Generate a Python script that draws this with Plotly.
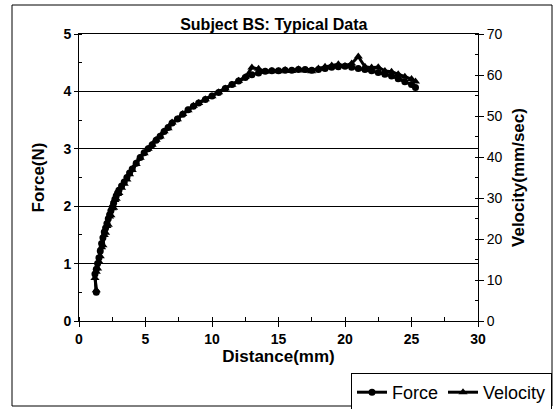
import plotly.graph_objects as go

distance = [1.3, 1.2, 1.3, 1.4, 1.5, 1.6, 1.7, 1.8, 1.9, 2.0, 2.1, 2.2, 2.3, 2.4, 2.5, 2.6, 2.7, 2.8, 2.9, 3.0,
            3.2, 3.4, 3.6, 3.8, 4.0, 4.3, 4.6, 4.9, 5.2, 5.5, 5.8, 6.1, 6.4, 6.7, 7.0, 7.4, 7.8, 8.2, 8.6, 9.0,
            9.5, 10.0, 10.5, 11.0, 11.5, 12.0, 12.5, 13.0, 13.5, 14.0, 14.5, 15.0, 15.5, 16.0, 16.5, 17.0, 17.5,
            18.0, 18.5, 19.0, 19.5, 20.0, 20.5, 21.0, 21.5, 22.0, 22.5, 23.0, 23.5, 24.0, 24.5, 25.0, 25.3]

force = [0.50, 0.82, 0.90, 1.00, 1.10, 1.22, 1.35, 1.45, 1.55, 1.62, 1.70, 1.78, 1.85, 1.92, 1.98, 2.05, 2.12,
         2.18, 2.23, 2.28, 2.35, 2.42, 2.50, 2.58, 2.65, 2.75, 2.85, 2.93, 3.00, 3.07, 3.15, 3.22, 3.30, 3.37,
         3.45, 3.52, 3.60, 3.68, 3.74, 3.80, 3.86, 3.92, 3.98, 4.05, 4.12, 4.18, 4.24, 4.29, 4.32, 4.35, 4.36,
         4.36, 4.37, 4.37, 4.38, 4.38, 4.37, 4.38, 4.40, 4.42, 4.43, 4.44, 4.42, 4.40, 4.38, 4.36, 4.33, 4.30,
         4.27, 4.22, 4.17, 4.12, 4.07]

velocity = [7.5, 10.5, 12.0, 12.8, 14.5, 15.8, 18.0, 18.5, 21.0, 21.5, 23.2, 23.5, 25.5, 25.8, 27.5, 27.6, 29.5,
            29.8, 31.0, 31.2, 32.5, 33.5, 34.5, 35.8, 36.8, 38.3, 39.8, 40.9, 42.0, 43.0, 44.2, 45.0, 46.3, 47.0,
            48.4, 49.2, 50.5, 51.4, 52.5, 53.2, 54.1, 54.8, 55.8, 56.7, 57.6, 58.6, 59.5, 61.8, 61.5, 60.8, 61.0,
            60.9, 61.2, 61.0, 61.4, 61.1, 60.9, 61.6, 62.0, 62.3, 62.6, 62.2, 62.8, 64.5, 62.0, 61.8, 61.9, 61.0,
            60.8, 60.2, 59.6, 59.0, 58.4]

title_text = "Subject BS: Typical Data"
x_title = "Distance(mm)"
y_title = "Force(N)"
y2_title = "Velocity(mm/sec)"

FONT = "Liberation Sans, Arial, sans-serif"
W, H = 555, 409
L, R, T, B = 79, 478, 34, 321

fig = go.Figure()
fig.add_trace(go.Scatter(
    x=distance, y=force, name="Force", mode="lines+markers",
    line=dict(color="black", width=3),
    marker=dict(symbol="circle", size=7, color="black"),
))
fig.add_trace(go.Scatter(
    x=distance, y=velocity, name="Velocity", mode="lines+markers", yaxis="y2",
    line=dict(color="black", width=3),
    marker=dict(symbol="triangle-up", size=8, color="black"),
))

fig.update_layout(
    width=W, height=H,
    margin=dict(l=L, r=W - R, t=T, b=H - B, autoexpand=False),
    paper_bgcolor="white", plot_bgcolor="white",
    font=dict(family=FONT, color="black", size=13),
    title=dict(text="<b>" + title_text + "</b>", x=271 / W, xref="paper", xanchor="center",
               y=1 - 24 / H, yref="container", yanchor="middle",
               font=dict(size=16, family=FONT, color="black")),
    xaxis=dict(
        range=[0, 30], dtick=5, tick0=0, automargin=False,
        showline=True, linecolor="black", linewidth=1, mirror=True,
        showgrid=False, zeroline=False,
        ticks="outside", ticklen=5, tickcolor="black",
        minor=dict(dtick=2.5, ticks="inside", ticklen=4, tickcolor="black"),
        tickfont=dict(size=14, family=FONT, weight="bold"),
        title=dict(text="<b>" + x_title + "</b>", font=dict(size=17, family=FONT), standoff=4),
    ),
    yaxis=dict(
        range=[0, 5], dtick=1, tick0=0, automargin=False,
        showline=True, linecolor="black", linewidth=1, mirror=True,
        showgrid=True, gridcolor="black", gridwidth=1, zeroline=False,
        ticks="outside", ticklen=4, tickcolor="black",
        minor=dict(dtick=0.5, ticks="inside", ticklen=3, tickcolor="black"),
        tickfont=dict(size=14, family=FONT, weight="bold"),
        title=dict(text="<b>" + y_title + "</b>", font=dict(size=17, family=FONT), standoff=14),
    ),
    yaxis2=dict(
        range=[0, 70], dtick=10, tick0=0, overlaying="y", side="right", automargin=False,
        showline=True, linecolor="black", linewidth=1,
        showgrid=False, zeroline=False,
        ticks="outside", ticklen=5, tickcolor="black",
        minor=dict(dtick=5, ticks="inside", ticklen=3, tickcolor="black"),
        tickfont=dict(size=14, family=FONT),
        title=dict(text="<b>" + y2_title + "</b>", font=dict(size=17, family=FONT), standoff=10),
    ),
    legend=dict(
        orientation="h", xref="container", yref="container",
        x=552 / W, xanchor="right", y=1 - 373 / H, yanchor="top",
        bordercolor="black", borderwidth=1, bgcolor="white",
        font=dict(size=18, family=FONT), itemwidth=30, traceorder="normal",
    ),
    shapes=[dict(type="rect", xref="paper", yref="paper",
                 x0=(12 - L) / (R - L), x1=(552 - L) / (R - L),
                 y0=(B - 406) / (B - T), y1=(B - 5) / (B - T),
                 line=dict(color="black", width=1), layer="below")],
    showlegend=True,
)

fig.write_html("out.html", config={"displayModeBar": False},
               post_script="document.body.style.margin='0';document.body.style.overflow='hidden';")
